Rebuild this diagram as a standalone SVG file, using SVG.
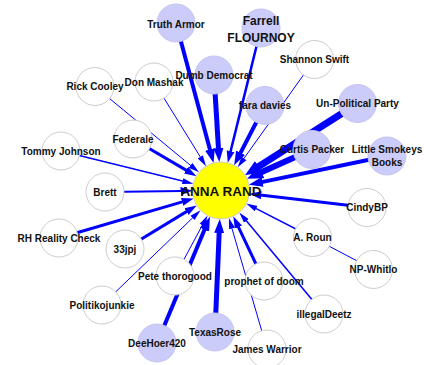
<svg xmlns="http://www.w3.org/2000/svg" width="424" height="365" viewBox="0 0 424 365">
<style>
.e{stroke:#0000ff;fill:none}
.n{fill:#ffffff;stroke:#cccccc;stroke-width:1}
.f{fill:#ccccfa;stroke:#c4c4f0;stroke-width:1}
.c{fill:#ffff00;stroke:#cccccc;stroke-width:1}
text{font-family:"Liberation Sans",Arial,sans-serif;font-weight:bold;font-size:10px;fill:#111;text-anchor:middle}
.big{font-size:13.5px}
.mid{font-size:12px}
</style>
<defs>
<marker id="a1" markerUnits="userSpaceOnUse" markerWidth="12" markerHeight="8" refX="1" refY="0" viewBox="0 -4 12 8" orient="auto"><path d="M0,-3L11,0L0,3z" fill="#0000ff"/></marker>
<marker id="a2" markerUnits="userSpaceOnUse" markerWidth="13" markerHeight="10" refX="1" refY="0" viewBox="0 -5 13 10" orient="auto"><path d="M0,-4L12,0L0,4z" fill="#0000ff"/></marker>
<marker id="a3" markerUnits="userSpaceOnUse" markerWidth="15" markerHeight="12" refX="1" refY="0" viewBox="0 -6 15 12" orient="auto"><path d="M0,-5L14,0L0,5z" fill="#0000ff"/></marker>
<marker id="a4" markerUnits="userSpaceOnUse" markerWidth="17" markerHeight="14" refX="1" refY="0" viewBox="0 -7 17 14" orient="auto"><path d="M0,-6.5L16,0L0,6.5z" fill="#0000ff"/></marker>
</defs>
<g id="edges">
<path class="e" d="M176,23L210.2,150.4" stroke-width="4" marker-end="url(#a3)"/>
<path class="e" d="M261,28L230.4,152.1" stroke-width="2.5" marker-end="url(#a2)"/>
<path class="e" d="M214,75L218.5,149.1" stroke-width="5" marker-end="url(#a3)"/>
<path class="e" d="M314.5,59.5L243.4,159.2" stroke-width="1" marker-end="url(#a1)"/>
<path class="e" d="M265,105.5L240.1,153.6" stroke-width="4" marker-end="url(#a3)"/>
<path class="e" d="M357.5,103.5L257.7,167.1" stroke-width="7" marker-end="url(#a4)"/>
<path class="e" d="M312,149.5L260.7,172.6" stroke-width="6" marker-end="url(#a4)"/>
<path class="e" d="M387,156L261.6,182.1" stroke-width="4" marker-end="url(#a3)"/>
<path class="e" d="M95,86.5L191.3,166" stroke-width="1" marker-end="url(#a1)"/>
<path class="e" d="M154,82L200.8,157.7" stroke-width="1" marker-end="url(#a1)"/>
<path class="e" d="M133,139L186.9,170.6" stroke-width="3" marker-end="url(#a2)"/>
<path class="e" d="M61,151L183.6,181.3" stroke-width="1.5" marker-end="url(#a1)"/>
<path class="e" d="M105,192L181.5,191" stroke-width="2" marker-end="url(#a2)"/>
<path class="e" d="M59,238L183.1,201.6" stroke-width="3" marker-end="url(#a2)"/>
<path class="e" d="M125,249L187.3,211.1" stroke-width="3" marker-end="url(#a2)"/>
<path class="e" d="M102,305L193.3,217.2" stroke-width="1" marker-end="url(#a1)"/>
<path class="e" d="M175,276L202.8,224.4" stroke-width="1" marker-end="url(#a1)"/>
<path class="e" d="M157,343L204.9,228.8" stroke-width="4" marker-end="url(#a3)"/>
<path class="e" d="M215,332L219.2,232" stroke-width="5" marker-end="url(#a3)"/>
<path class="e" d="M267,349L231.7,227.5" stroke-width="1" marker-end="url(#a1)"/>
<path class="e" d="M264,281L238,226.2" stroke-width="3" marker-end="url(#a2)"/>
<path class="e" d="M324,314L245.7,220.1" stroke-width="1.5" marker-end="url(#a1)"/>
<path class="e" d="M312.5,237.5L255.2,208.1" stroke-width="1.5" marker-end="url(#a1)"/>
<path class="e" d="M367,207.5L260.2,195.1" stroke-width="3" marker-end="url(#a2)"/>
<path class="e" d="M312.5,237.5L373.5,269.5" stroke-width="1"/>
</g>
<g id="n-truth-armor"><circle class="f" cx="176" cy="23" r="19"/><text x="176" y="27.5">Truth Armor</text></g>
<g id="n-farrell"><circle class="f" cx="261" cy="28" r="19"/><text class="mid" x="261" y="25">Farrell</text><text class="mid" x="261" y="41.5">FLOURNOY</text></g>
<g id="n-dumb-democrat"><circle class="f" cx="214" cy="75" r="19"/><text x="214" y="78.5">Dumb Democrat</text></g>
<g id="n-shannon-swift"><circle class="n" cx="314.5" cy="59.5" r="19"/><text x="314.5" y="63">Shannon Swift</text></g>
<g id="n-rick-cooley"><circle class="n" cx="95" cy="86.5" r="19"/><text x="95" y="90">Rick Cooley</text></g>
<g id="n-don-mashak"><circle class="n" cx="154" cy="82" r="19"/><text x="154" y="85.5">Don Mashak</text></g>
<g id="n-fara-davies"><circle class="f" cx="265" cy="105.5" r="19"/><text x="265" y="109">fara davies</text></g>
<g id="n-un-political"><circle class="f" cx="357.5" cy="103.5" r="19"/><text x="357.5" y="107">Un-Political Party</text></g>
<g id="n-federale"><circle class="n" cx="133" cy="139" r="19"/><text x="133" y="142.5">Federale</text></g>
<g id="n-tommy-johnson"><circle class="n" cx="61" cy="151" r="19"/><text x="61" y="154.5">Tommy Johnson</text></g>
<g id="n-curtis-packer"><circle class="f" cx="312" cy="149.5" r="19"/><text x="312" y="153">Curtis Packer</text></g>
<g id="n-little-smokeys"><circle class="f" cx="387" cy="156" r="19"/><text x="387" y="152.5">Little Smokeys</text><text x="387" y="165.5">Books</text></g>
<g id="n-brett"><circle class="n" cx="105" cy="192" r="19"/><text x="105" y="195.5">Brett</text></g>
<g id="n-cindybp"><circle class="n" cx="367" cy="207.5" r="19"/><text x="367" y="211">CindyBP</text></g>
<g id="n-rh-reality"><circle class="n" cx="59" cy="238" r="19"/><text x="59" y="241.5">RH Reality Check</text></g>
<g id="n-33jpj"><circle class="n" cx="125" cy="249" r="19"/><text x="125" y="252.5">33jpj</text></g>
<g id="n-a-roun"><circle class="n" cx="312.5" cy="237.5" r="19"/><text x="312.5" y="241">A. Roun</text></g>
<g id="n-np-whitlo"><circle class="n" cx="373.5" cy="269.5" r="19"/><text x="373.5" y="273">NP-Whitlo</text></g>
<g id="n-pete"><circle class="n" cx="175" cy="276" r="19"/><text x="175" y="279.5">Pete thorogood</text></g>
<g id="n-prophet"><circle class="n" cx="264" cy="281" r="19"/><text x="264" y="284.5">prophet of doom</text></g>
<g id="n-politikojunkie"><circle class="n" cx="102" cy="305" r="19"/><text x="102" y="308.5">Politikojunkie</text></g>
<g id="n-illegaldeetz"><circle class="n" cx="324" cy="314" r="19"/><text x="324" y="317.5">illegalDeetz</text></g>
<g id="n-deehoer"><circle class="f" cx="157" cy="343" r="19"/><text x="157" y="347">DeeHoer420</text></g>
<g id="n-texasrose"><circle class="f" cx="215" cy="332" r="19"/><text x="215" y="335.5">TexasRose</text></g>
<g id="n-james-warrior"><circle class="n" cx="267" cy="349" r="19"/><text x="267" y="353">James Warrior</text></g>
<g id="n-anna-rand"><circle class="c" cx="221" cy="190.5" r="28.5"/><text class="big" x="221" y="195.5">ANNA RAND</text></g>
</svg>
